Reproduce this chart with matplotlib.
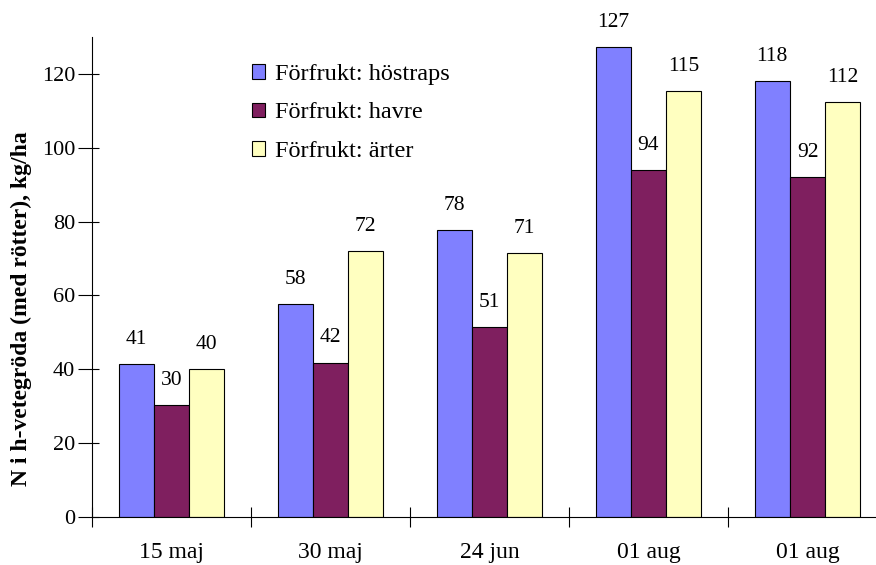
import matplotlib
matplotlib.use("Agg")
import matplotlib.pyplot as plt
import numpy as np

categories = ["15 maj", "30 maj", "24 jun", "01 aug", "01 aug"]
series_names = ["Förfrukt: höstraps", "Förfrukt: havre", "Förfrukt: ärter"]
hostraps = [41.4, 57.6, 77.6, 127.2, 118.0]
havre = [30.3, 41.8, 51.4, 94.0, 92.0]
arter = [40.0, 72.0, 71.4, 115.3, 112.4]
colors = ["#8080FF", "#7F1F5F", "#FFFFC0"]
yticks = [0, 20, 40, 60, 80, 100, 120]

plt.rcParams['font.family'] = ['Liberation Serif', 'DejaVu Serif']

fig = plt.figure(figsize=(8.76, 5.65), dpi=100)
ax = fig.add_axes([92/876, 48/565, 795/876, 480/565])

x = np.arange(len(categories))
w = 0.222
series = [hostraps, havre, arter]
for i, (vals, name, c) in enumerate(zip(series, series_names, colors)):
    pos = x + 0.5 + (i - 1) * w
    ax.bar(pos, vals, width=w, color=c, edgecolor="black", linewidth=0.8, label=name)
    for xp, v in zip(pos, vals):
        ax.annotate(f"{round(v):d}", (xp, v), xytext=(0, 11), textcoords="offset points",
                    ha="center", va="bottom", fontsize=15.5)

ax.set_xlim(0, 5)
ax.set_ylim(0, 130)
ax.set_xticks(np.arange(0, 6))
ax.set_xticklabels([])
ax.set_xticks(x + 0.5, minor=True)
ax.set_xticklabels(categories, minor=True, fontsize=17)
ax.tick_params(axis="x", which="major", direction="inout", length=14, width=0.8)
ax.tick_params(axis="x", which="minor", length=0, pad=18)

ax.yaxis.remove_overlapping_locs = False
ax.set_yticks(yticks)
ax.set_yticklabels([str(t) for t in yticks], fontsize=16)
ax.set_yticks(yticks, minor=True)
ax.tick_params(axis="y", which="major", direction="out", length=10, width=0.8, pad=2)
ax.tick_params(axis="y", which="minor", direction="in", length=5, width=0.8)

for s in ["top", "right"]:
    ax.spines[s].set_visible(False)
for s in ["left", "bottom"]:
    ax.spines[s].set_linewidth(0.8)

ax.set_ylabel("N i h-vetegröda (med rötter), kg/ha", fontsize=17, fontweight="bold")
ax.yaxis.set_label_coords(-60/795, (517 - 309) / 480)

leg = ax.legend(loc="upper left", bbox_to_anchor=(252/876, 1 - 64/565),
                bbox_transform=fig.transFigure, frameon=False,
                fontsize=17.5, handlelength=0.55, handleheight=0.55, handletextpad=0.4,
                labelspacing=0.72, borderaxespad=0, borderpad=0)

fig.savefig("out.png", dpi=100)
